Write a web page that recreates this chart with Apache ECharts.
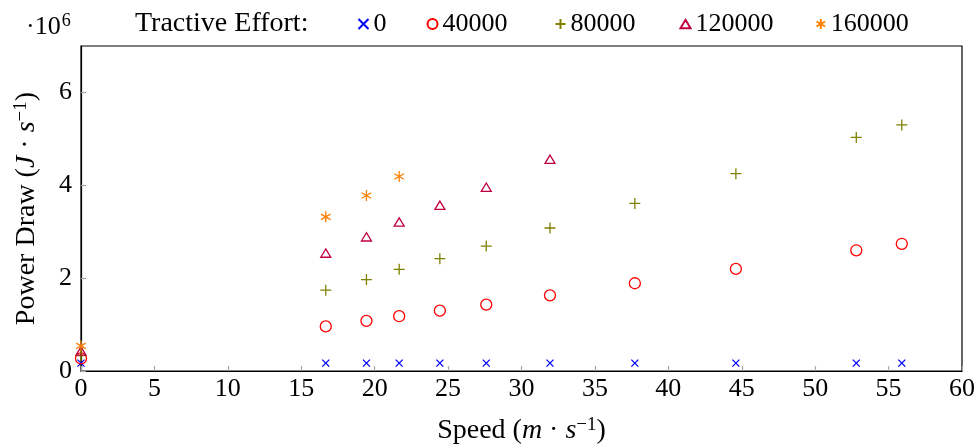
<!DOCTYPE html>
<html>
<head>
<meta charset="utf-8">
<script src="https://cdn.jsdelivr.net/npm/echarts@6/dist/echarts.min.js"></script>
<style>
html,body{margin:0;padding:0;background:#fff;}
#chart{width:979px;height:445px;}
</style>
</head>
<body>
<div id="chart"></div>
<script>
// Speed (m/s) at which each measurement was taken
const speeds = [0, 16.67, 19.44, 21.67, 24.44, 27.6, 31.94, 37.72, 44.6, 52.8, 55.9];
// Power draw (×10^6 J/s) per tractive effort
const te0      = [0.17, 0.17, 0.17, 0.17, 0.17, 0.17, 0.17, 0.17, 0.17, 0.17, 0.17];
const te40000  = [0.27, 0.96, 1.08, 1.18, 1.30, 1.43, 1.63, 1.89, 2.20, 2.60, 2.74];
const te80000  = [0.33, 1.74, 1.97, 2.19, 2.42, 2.69, 3.08, 3.61, 4.25, 5.03, 5.30];
const te120000 = [0.43, 2.54, 2.89, 3.21, 3.57, 3.96, 4.56];
const te160000 = [0.54, 3.32, 3.78, 4.19];
const seriesNames = ['0', '40000', '80000', '120000', '160000'];
const xTicks = [0, 5, 10, 15, 20, 25, 30, 35, 40, 45, 50, 55, 60];
const yTicks = [0, 2, 4, 6];

const FONT = '"Liberation Serif", "DejaVu Serif", serif';
const FS = 26;   // numbers
const FW = 28;   // words

function pairs(vals) { return vals.map((v, i) => [speeds[i], v]); }

const symCross = 'path://M0,0L10,10M10,0L0,10';
const symPlus = 'path://M5,0L5,10M0,5L10,5';
const symTri = 'path://M5,0L10.4,9L-0.4,9Z';
const symStar = 'path://M5,0L5,10M0.67,2.5L9.33,7.5M0.67,7.5L9.33,2.5';

function mk(name, vals, color, symbol, size) {
  return {
    name: name, type: 'scatter', data: pairs(vals),
    symbol: symbol, symbolSize: size, symbolKeepAspect: true, clip: false,
    itemStyle: { color: 'none', borderColor: color, borderWidth: 1.3, opacity: 1 },
    emphasis: { disabled: true }, z: 5
  };
}

// one legend block per entry, so each can sit where the reference has it
const legendLeft = [356, 425, 553, 678, 814];
const legends = seriesNames.map((n, i) => ({
  left: legendLeft[i], top: 11, padding: 0, itemWidth: 10, itemHeight: 10,
  textStyle: { fontFamily: FONT, fontSize: FS, color: '#000', padding: [0, 0, 0, 0] },
  data: [n]
}));

const chart = echarts.init(document.getElementById('chart'), null, { renderer: 'canvas' });
chart.setOption({
  animation: false,
  backgroundColor: '#fff',
  textStyle: { fontFamily: FONT, color: '#000' },
  grid: { left: 81, right: 17, top: 46, bottom: 74, outerBoundsMode: 'none', containLabel: false,
    show: true, borderColor: '#000', borderWidth: 1.2, backgroundColor: 'transparent' },
  legend: legends,
  graphic: [
    { type: 'text', left: 135, top: 10, style: { text: 'Tractive Effort:', font: FW + 'px ' + FONT, fill: '#000' } },
    { type: 'text', left: 26, top: 12, style: { text: '{a|·10}{b|6}', fill: '#000',
      rich: { a: { fontFamily: FONT, fontSize: FS, verticalAlign: 'bottom' }, b: { fontFamily: FONT, fontSize: 18, verticalAlign: 'top', padding: [0, 0, 10, 1] } } } }
  ],
  xAxis: {
    type: 'value', min: 0, max: 60, interval: 5,
    name: '{r|Speed (}{i|m}{r| · }{i|s}{s|−1}{r|)}', nameLocation: 'middle', nameGap: 45,
    nameTextStyle: { rich: {
      r: { fontFamily: FONT, fontSize: FW, color: '#000' },
      i: { fontFamily: FONT, fontSize: FW, fontStyle: 'italic', color: '#000' },
      s: { fontFamily: FONT, fontSize: 19, color: '#000', verticalAlign: 'top', padding: [0, 0, 10, 0] } } },
    axisLine: { show: true, lineStyle: { color: '#000', width: 1.2 } },
    axisTick: { show: true, inside: true, length: 5, lineStyle: { color: '#a6a6a6', width: 1.2 } },
    axisLabel: { fontFamily: FONT, fontSize: FS, color: '#000', margin: 5, formatter: v => xTicks.includes(v) ? String(v) : '' },
    splitLine: { show: false }
  },
  yAxis: {
    type: 'value', min: 0, max: 7, interval: 2,
    name: '{r|Power Draw (}{i|J}{r| · }{i|s}{s|−1}{r|)}', nameLocation: 'middle', nameGap: 40, nameRotate: 90,
    nameTextStyle: { rich: {
      r: { fontFamily: FONT, fontSize: FW, color: '#000' },
      i: { fontFamily: FONT, fontSize: FW, fontStyle: 'italic', color: '#000' },
      s: { fontFamily: FONT, fontSize: 19, color: '#000', verticalAlign: 'top', padding: [0, 0, 10, 0] } } },
    axisLine: { show: true, lineStyle: { color: '#000', width: 1.2 } },
    axisTick: { show: true, inside: true, length: 5, lineStyle: { color: '#a6a6a6', width: 1.2 } },
    axisLabel: { fontFamily: FONT, fontSize: FS, color: '#000', margin: 9, showMaxLabel: false, formatter: v => yTicks.includes(v) ? String(v) : '' },
    splitLine: { show: false }
  },
  series: [
    mk(seriesNames[0], te0, '#0000ff', symCross, 7),
    mk(seriesNames[1], te40000, '#ff0000', 'circle', 11),
    mk(seriesNames[2], te80000, '#808000', symPlus, 11),
    mk(seriesNames[3], te120000, '#bf0040', symTri, 10),
    mk(seriesNames[4], te160000, '#ff8000', symStar, 11)
  ]
});
</script>
</body>
</html>
